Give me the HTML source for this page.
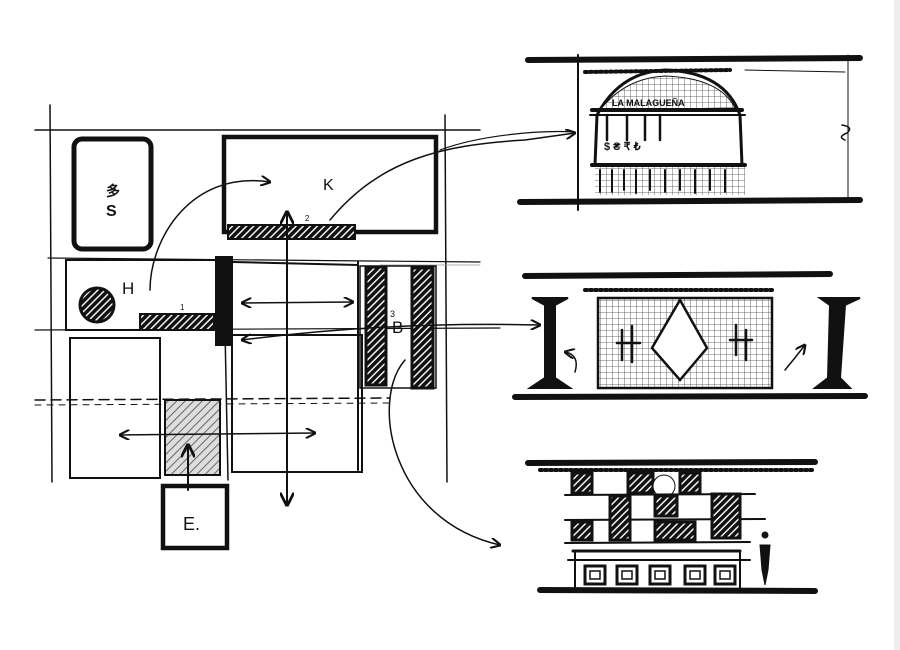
<!DOCTYPE html>
<html><head><meta charset="utf-8"><style>
html,body{margin:0;padding:0;background:#fff;}
svg{display:block;}
text{font-family:"Liberation Sans",sans-serif;fill:#111;}
</style></head><body>
<svg width="900" height="650" viewBox="0 0 900 650" xmlns="http://www.w3.org/2000/svg">
<defs>
<pattern id="h" width="5" height="5" patternUnits="userSpaceOnUse" patternTransform="rotate(45)">
<rect width="5" height="5" fill="#fff"/><rect width="3.6" height="5" fill="#111"/></pattern>
<pattern id="g" width="6" height="6" patternUnits="userSpaceOnUse">
<rect width="6" height="6" fill="#fff"/><path d="M0 0H6M0 0V6" stroke="#444" stroke-width="0.8"/></pattern>
<pattern id="lh" width="6" height="6" patternUnits="userSpaceOnUse" patternTransform="rotate(45)">
<rect width="6" height="6" fill="#ddd"/><rect width="1" height="6" fill="#666"/></pattern>
<marker id="a" viewBox="0 0 10 10" refX="9" refY="5" markerWidth="7" markerHeight="7" orient="auto-start-reverse"><path d="M0 0L10 5L0 10" fill="none" stroke="#111" stroke-width="2"/></marker>
</defs>
<rect x="894" y="0" width="6" height="650" fill="#eee"/>
<g stroke="#111" fill="none" stroke-linecap="round">
<line x1="50" y1="105" x2="52" y2="482" stroke-width="1.5"/>
<line x1="445" y1="115" x2="447" y2="482" stroke-width="1.5"/>
<line x1="35" y1="130" x2="480" y2="130" stroke-width="1.5"/>
<line x1="35" y1="330" x2="500" y2="328" stroke-width="1.2"/>
<line x1="48" y1="258" x2="480" y2="262" stroke-width="1.2"/>
<line x1="380" y1="265" x2="480" y2="265" stroke-width="0.8" stroke="#999"/>
<line x1="35" y1="400" x2="390" y2="398" stroke-width="1.5" stroke-dasharray="10,6"/>
<line x1="35" y1="405" x2="390" y2="403" stroke-width="1" stroke-dasharray="6,6"/>
<rect x="74" y="139" width="77" height="110" rx="8" stroke-width="5"/>
<rect x="224" y="137" width="212" height="95" stroke-width="4.5"/>
<rect x="228" y="225" width="127" height="14" fill="url(#h)" stroke-width="2"/>
<rect x="66" y="260" width="158" height="70" stroke-width="2"/>
<circle cx="97" cy="305" r="17" fill="url(#h)" stroke-width="3"/>
<rect x="140" y="314" width="74" height="16" fill="url(#h)" stroke-width="2"/>
<rect x="216" y="257" width="16" height="88" fill="#111" stroke-width="2"/>
<line x1="233" y1="262" x2="358" y2="265" stroke-width="2"/>
<line x1="358" y1="262" x2="358" y2="470" stroke-width="2"/>
<rect x="360" y="266" width="76" height="122" stroke-width="1.5"/>
<rect x="366" y="267" width="20" height="118" fill="url(#h)" stroke-width="3"/>
<rect x="412" y="268" width="21" height="120" fill="url(#h)" stroke-width="3"/>
<rect x="70" y="338" width="90" height="140" stroke-width="2"/>
<rect x="232" y="335" width="130" height="137" stroke-width="2"/>
<line x1="225" y1="330" x2="228" y2="480" stroke-width="1.5"/>
<rect x="165" y="400" width="55" height="75" fill="url(#lh)" stroke-width="2"/>
<rect x="163" y="486" width="64" height="62" stroke-width="4.5"/>
<line x1="287" y1="212" x2="287" y2="505" stroke-width="2" marker-start="url(#a)" marker-end="url(#a)"/>
<line x1="242" y1="303" x2="353" y2="302" stroke-width="1.5" marker-start="url(#a)" marker-end="url(#a)"/>
<line x1="120" y1="435" x2="315" y2="433" stroke-width="1.5" marker-start="url(#a)" marker-end="url(#a)"/>
<line x1="188" y1="490" x2="188" y2="445" stroke-width="2" marker-end="url(#a)"/>
<path d="M150 290 C150 240 190 170 270 182" stroke-width="1.5" marker-end="url(#a)"/>
<path d="M330 220 C380 160 440 145 525 140 L575 133" stroke-width="1.5" marker-end="url(#a)"/>
<path d="M440 150 C480 135 540 130 575 132" stroke-width="1.2"/>
<path d="M242 340 C320 330 420 322 540 325" stroke-width="1.5" marker-start="url(#a)" marker-end="url(#a)"/>
<path d="M405 360 C370 400 390 520 500 545" stroke-width="1.5" marker-end="url(#a)"/>
<line x1="528" y1="60" x2="860" y2="58" stroke-width="6"/>
<line x1="520" y1="202" x2="860" y2="200" stroke-width="6"/>
<line x1="578" y1="55" x2="578" y2="210" stroke-width="2"/>
<line x1="848" y1="55" x2="848" y2="200" stroke-width="1"/>
<line x1="745" y1="70" x2="845" y2="72" stroke-width="1"/>
<line x1="585" y1="72" x2="730" y2="70" stroke-width="4" stroke-dasharray="2,3"/>
<path d="M595 165 L597 115 Q620 72 665 70 Q725 72 740 115 L742 165" stroke-width="3"/>
<path d="M600 110 Q625 78 665 76 Q720 78 735 108 Z" fill="url(#g)" stroke-width="1"/>
<line x1="592" y1="110" x2="742" y2="110" stroke-width="4"/>
<line x1="590" y1="115" x2="745" y2="115" stroke-width="2"/>
<line x1="607" y1="115" x2="607" y2="140" stroke-width="2.5"/><line x1="627" y1="115" x2="627" y2="140" stroke-width="2.5"/>
<line x1="645" y1="115" x2="645" y2="140" stroke-width="2.5"/><line x1="660" y1="115" x2="660" y2="140" stroke-width="2.5"/>
<line x1="592" y1="165" x2="745" y2="165" stroke-width="4"/>
<rect x="595" y="167" width="150" height="28" fill="url(#g)" stroke-width="0"/>
<path d="M600 170V192M612 170V192M624 170V190M636 170V193M650 170V190M665 170V192M680 170V190M695 170V193M710 170V190M725 170V192" stroke-width="2"/>
<path d="M842 125 q12 2 5 8 q-10 4 -2 7" stroke-width="1.5"/>
<line x1="525" y1="276" x2="830" y2="274" stroke-width="6"/>
<line x1="585" y1="290" x2="775" y2="290" stroke-width="4" stroke-dasharray="2,3"/>
<line x1="515" y1="397" x2="865" y2="396" stroke-width="6"/>
<rect x="598" y="298" width="174" height="90" fill="url(#g)" stroke-width="2.5"/>
<path d="M680 300 L707 348 L680 380 L652 348 Z" fill="#fff" stroke-width="2.5"/>
<path d="M622 330V360M632 326V362M736 325V355M746 330V360M617 343H640M730 340H752" stroke-width="2.5"/>
<path d="M532 298H568L555 305L555 378L570 388H530L545 378L545 305Z" fill="#111" stroke-width="2"/>
<path d="M820 298H860L845 305L840 378L850 388H815L828 378L830 305Z" fill="#111" stroke-width="2"/>
<path d="M575 372 Q580 355 565 352" stroke-width="1.5" marker-end="url(#a)"/>
<path d="M785 370 Q795 358 805 345" stroke-width="1.5" marker-end="url(#a)"/>
<line x1="528" y1="463" x2="815" y2="462" stroke-width="6"/>
<line x1="540" y1="470" x2="812" y2="470" stroke-width="4" stroke-dasharray="2,3"/>
<line x1="540" y1="590" x2="815" y2="591" stroke-width="6"/>
<rect x="572" y="473" width="20" height="20" fill="url(#h)" stroke-width="3"/>
<rect x="628" y="473" width="25" height="20" fill="url(#h)" stroke-width="3"/>
<circle cx="664" cy="486" r="11" fill="#fff" stroke-width="1"/>
<rect x="680" y="473" width="20" height="20" fill="url(#h)" stroke-width="3"/>
<line x1="565" y1="495" x2="755" y2="494" stroke-width="2"/>
<line x1="565" y1="520" x2="765" y2="519" stroke-width="2"/>
<line x1="565" y1="543" x2="750" y2="542" stroke-width="2"/>
<rect x="610" y="496" width="20" height="44" fill="url(#h)" stroke-width="3"/>
<rect x="655" y="496" width="22" height="20" fill="url(#h)" stroke-width="3"/>
<rect x="655" y="522" width="40" height="18" fill="url(#h)" stroke-width="3"/>
<rect x="712" y="494" width="28" height="44" fill="url(#h)" stroke-width="3"/>
<rect x="572" y="522" width="20" height="18" fill="url(#h)" stroke-width="3"/>
<line x1="573" y1="551" x2="740" y2="551" stroke-width="3"/>
<line x1="568" y1="560" x2="750" y2="560" stroke-width="2"/>
<path d="M575 551V590M740 551V590" stroke-width="2"/>
<rect x="585" y="566" width="20" height="18" stroke-width="3"/><rect x="590" y="571" width="10" height="8" stroke-width="1.5"/>
<rect x="617" y="566" width="20" height="18" stroke-width="3"/><rect x="622" y="571" width="10" height="8" stroke-width="1.5"/>
<rect x="650" y="566" width="20" height="18" stroke-width="3"/><rect x="655" y="571" width="10" height="8" stroke-width="1.5"/>
<rect x="685" y="566" width="20" height="18" stroke-width="3"/><rect x="690" y="571" width="10" height="8" stroke-width="1.5"/>
<rect x="715" y="566" width="20" height="18" stroke-width="3"/><rect x="720" y="571" width="10" height="8" stroke-width="1.5"/>
<circle cx="765" cy="535" r="3" fill="#111" stroke-width="1"/>
<path d="M760 545H770L768 570L765 585L762 570Z" fill="#111" stroke-width="1"/>
</g>
<text x="106" y="216" font-size="16" font-weight="bold">S</text>
<text x="106" y="196" font-size="14" font-weight="bold">多</text>
<text x="323" y="190" font-size="16">K</text>
<text x="305" y="221" font-size="8">2</text>
<text x="122" y="294" font-size="17">H</text>
<text x="180" y="310" font-size="8">1</text>
<text x="390" y="317" font-size="9">3</text>
<text x="392" y="333" font-size="17">B</text>
<text x="183" y="530" font-size="18">E.</text>
<text x="612" y="106" font-size="9" font-weight="bold">LA MALAGUEÑA</text>
<text x="604" y="150" font-size="11" font-weight="bold">$ ₴ ₹ ₺</text>
</svg>
</body></html>
